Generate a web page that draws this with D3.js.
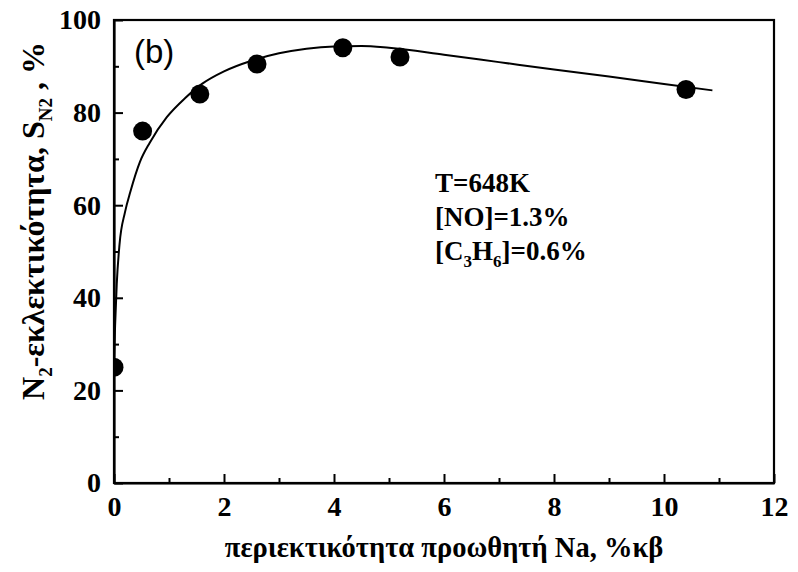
<!DOCTYPE html>
<html>
<head>
<meta charset="utf-8">
<script src="https://cdn.jsdelivr.net/npm/d3@7"></script>
<style>
  body { margin: 0; background: #fff; }
  svg { display: block; }
  .tick text { font-family: "Liberation Serif", "Times New Roman", serif; font-weight: bold; }
</style>
</head>
<body>
<script>
'use strict';

// measured points: Na loading (%wt) vs N2 selectivity (%)
const naLoading = [0, 0.52, 1.56, 2.6, 4.16, 5.2, 10.4];
const selectivity = [25, 76, 84, 90.5, 94, 92, 85];

// fitted curve
const fitX = [0, 0.02, 0.05, 0.1, 0.2, 0.3, 0.47, 0.65, 0.96, 1.3, 1.6, 2.0, 2.5, 3.0, 3.5, 4.0, 4.5, 5.0, 6.0, 7.0, 8.0, 9.0, 10.0, 10.88];
const fitY = [27, 34, 43, 51.5, 58.5, 63, 69.3, 73.5, 79, 83.2, 86.2, 88.9, 91.2, 92.8, 93.8, 94.3, 94.4, 94.0, 92.5, 90.9, 89.3, 87.8, 86.2, 84.8];

const xTicks = [0, 2, 4, 6, 8, 10, 12];
const yTicks = [0, 20, 40, 60, 80, 100];

const notes = ["T=648K", "[NO]=1.3%"];

window.onload = function() {
  const width = 798, height = 572;
  const margin = { left: 114, right: 24, top: 20, bottom: 89 };

  const svg = d3.select('body').append('svg')
    .attr('width', width)
    .attr('height', height);

  const xScale = d3.scaleLinear().domain([0, 12]).range([margin.left, width - margin.right]);
  const yScale = d3.scaleLinear().domain([0, 100]).range([height - margin.bottom, margin.top]);

  // clip so the point at x=0 is cut by the axis
  svg.append('clipPath').attr('id', 'plot')
    .append('rect')
    .attr('x', margin.left).attr('y', margin.top)
    .attr('width', xScale(12) - margin.left)
    .attr('height', yScale(0) - margin.top);

  // fitted line
  const line = d3.line()
    .x((d, i) => xScale(fitX[i]))
    .y((d, i) => yScale(fitY[i]))
    .curve(d3.curveMonotoneX);
  svg.append('path')
    .datum(fitX)
    .attr('d', line)
    .attr('fill', 'none')
    .attr('stroke', '#000')
    .attr('stroke-width', 2)
    .attr('clip-path', 'url(#plot)');

  // points
  svg.append('g').attr('clip-path', 'url(#plot)')
    .selectAll('circle')
    .data(naLoading)
    .enter()
    .append('circle')
      .attr('cx', d => xScale(d))
      .attr('cy', (d, i) => yScale(selectivity[i]))
      .attr('r', 9.5)
      .attr('fill', '#000');

  // frame: top and right plain lines
  svg.append('rect')
    .attr('x', margin.left).attr('y', margin.top)
    .attr('width', xScale(12) - margin.left)
    .attr('height', yScale(0) - margin.top)
    .attr('fill', 'none')
    .attr('stroke', '#000')
    .attr('stroke-width', 2.2);

  // minor ticks
  const xMinor = d3.axisBottom(xScale).tickValues(d3.range(1, 12, 2)).tickSize(-5).tickFormat('');
  svg.append('g')
    .attr('transform', `translate(0, ${yScale(0)})`)
    .call(xMinor)
    .call(g => g.select('.domain').remove())
    .call(g => g.selectAll('line').attr('stroke-width', 2));

  const yMinor = d3.axisLeft(yScale).tickValues(d3.range(10, 100, 20)).tickSize(-5).tickFormat('');
  svg.append('g')
    .attr('transform', `translate(${margin.left}, 0)`)
    .call(yMinor)
    .call(g => g.select('.domain').remove())
    .call(g => g.selectAll('line').attr('stroke-width', 2));

  // major ticks
  const xAxis = d3.axisBottom(xScale).tickValues(xTicks).tickSizeInner(-9).tickSizeOuter(0).tickPadding(13);
  svg.append('g')
    .attr('transform', `translate(0, ${yScale(0)})`)
    .call(xAxis)
    .call(g => g.select('.domain').attr('stroke-width', 2.2))
    .call(g => g.selectAll('line').attr('stroke-width', 2))
    .call(g => g.selectAll('text').style('font-size', '28px').attr('fill', '#000'));

  const yAxis = d3.axisLeft(yScale).tickValues(yTicks).tickSizeInner(-9).tickSizeOuter(0).tickPadding(13);
  svg.append('g')
    .attr('transform', `translate(${margin.left}, 0)`)
    .call(yAxis)
    .call(g => g.select('.domain').attr('stroke-width', 2.2))
    .call(g => g.selectAll('line').attr('stroke-width', 2))
    .call(g => g.selectAll('text').style('font-size', '28px').attr('fill', '#000'));

  const serif = '"Liberation Serif", "Times New Roman", serif';

  // x title
  svg.append('text')
    .attr('x', 444).attr('y', 557)
    .attr('text-anchor', 'middle')
    .style('font-family', serif).style('font-weight', 'bold').style('font-size', '28.5px')
    .text('περιεκτικότητα προωθητή Na, %κβ');

  // y title
  const yt = svg.append('text')
    .attr('transform', 'translate(44, 221) rotate(-90)')
    .attr('text-anchor', 'middle')
    .style('font-family', serif).style('font-weight', 'bold').style('font-size', '32px');
  yt.append('tspan').text('N');
  yt.append('tspan').attr('dy', 8).style('font-size', '19px').text('2');
  yt.append('tspan').attr('dy', -8).text('-εκλεκτικότητα, S');
  yt.append('tspan').attr('dy', 8).style('font-size', '19px').text('N2');
  yt.append('tspan').attr('dy', -8).text(' , %');

  // panel label
  svg.append('text')
    .attr('x', 134).attr('y', 63)
    .style('font-family', '"Liberation Sans", Arial, sans-serif').style('font-size', '33px')
    .text('(b)');

  // conditions
  const noteX = 435;
  svg.selectAll('.note')
    .data(notes)
    .enter()
    .append('text')
      .attr('class', 'note')
      .attr('x', noteX)
      .attr('y', (d, i) => 192 + i * 34)
      .style('font-family', serif).style('font-weight', 'bold').style('font-size', '27px')
      .text(d => d);

  const c = svg.append('text')
    .attr('x', noteX).attr('y', 260)
    .style('font-family', serif).style('font-weight', 'bold').style('font-size', '27px');
  c.append('tspan').text('[C');
  c.append('tspan').attr('dy', 7).style('font-size', '17px').text('3');
  c.append('tspan').attr('dy', -7).text('H');
  c.append('tspan').attr('dy', 7).style('font-size', '17px').text('6');
  c.append('tspan').attr('dy', -7).text(']=0.6%');
};
</script>
</body>
</html>
